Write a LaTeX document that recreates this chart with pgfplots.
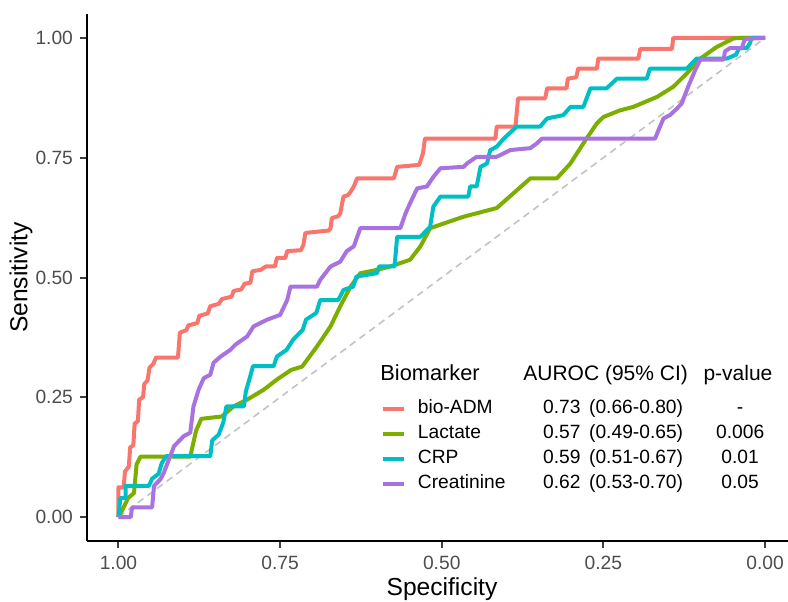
\documentclass[border=0pt]{standalone}
\usepackage{fontspec}
\setmainfont{Liberation Sans}
\usepackage{pgfplots}
\pgfplotsset{compat=1.18}

\definecolor{cADM}{HTML}{F8766D}
\definecolor{cLac}{HTML}{7CAE00}
\definecolor{cCRP}{HTML}{00BFC4}
\definecolor{cCre}{HTML}{A873E0}
\definecolor{tickgray}{RGB}{77,77,77}
\definecolor{diaggray}{RGB}{195,195,195}

\begin{document}
\begin{tikzpicture}
\path[use as bounding box] (-43.5pt,-30pt) rectangle (350.5pt,270.5pt);
\begin{axis}[
    at={(0pt,0pt)}, anchor=south west,
    width=350.5pt, height=263.5pt, scale only axis,
    xmin=-0.0355, xmax=1.0487, ymin=-0.05, ymax=1.05,
    x dir=reverse,
    axis x line*=bottom, axis y line*=left,
    axis line style={line width=1.1pt, -},
    xtick={0,0.25,0.5,0.75,1}, xticklabels={0.00,0.25,0.50,0.75,1.00},
    ytick={0,0.25,0.5,0.75,1}, yticklabels={0.00,0.25,0.50,0.75,1.00},
    tick align=outside, major tick length=3.5pt,
    tick style={line width=1pt, color=black!75},
    ticklabel style={font=\fontsize{9.6}{10}\selectfont, color=tickgray},
    xticklabel style={yshift=-0.5pt},
    clip=false,
    legend style={draw=none, fill=none, inner sep=0pt, outer sep=0pt,
        at={(axis description cs:0.4194,0.2679)}, anchor=north west,
        column sep=6.3pt, row sep=3.5pt,
        nodes={inner sep=0pt, text height=7pt, text depth=2pt,
               font=\fontsize{9.6}{11}\selectfont}},
    legend cell align=left,
    legend image code/.code={\draw[#1, line width=1.7pt] (0pt,0pt) -- (10.5pt,0pt);},
]
\addplot[diaggray, line width=0.8pt, dash pattern=on 3.5pt off 2.5pt, forget plot]
    coordinates {(1,0) (0,1)};

% bio-ADM
\addplot[cADM, line width=2pt, line join=round] coordinates {
(1.000,0.000) (1.000,0.062) (0.992,0.062) (0.990,0.095) (0.984,0.105)
(0.982,0.145) (0.977,0.150) (0.975,0.195) (0.970,0.200) (0.968,0.245)
(0.962,0.250) (0.960,0.278) (0.955,0.285) (0.952,0.312) (0.946,0.320)
(0.942,0.333) (0.908,0.333) (0.905,0.385) (0.895,0.390) (0.892,0.400)
(0.878,0.405) (0.875,0.420) (0.862,0.425) (0.858,0.440) (0.845,0.445)
(0.840,0.455) (0.825,0.460) (0.822,0.472) (0.810,0.475) (0.805,0.487)
(0.796,0.489) (0.793,0.513) (0.780,0.516) (0.772,0.523) (0.758,0.523)
(0.755,0.541) (0.742,0.541) (0.739,0.555) (0.718,0.557) (0.714,0.568)
(0.711,0.593) (0.675,0.598) (0.672,0.603) (0.670,0.624) (0.660,0.628)
(0.657,0.634) (0.652,0.669) (0.645,0.672) (0.641,0.679) (0.636,0.690)
(0.631,0.707) (0.574,0.707) (0.569,0.731) (0.535,0.735) (0.529,0.759)
(0.526,0.790) (0.417,0.790) (0.415,0.815) (0.386,0.815) (0.382,0.874)
(0.340,0.874) (0.337,0.895) (0.307,0.895) (0.305,0.915) (0.292,0.918)
(0.289,0.936) (0.260,0.936) (0.258,0.957) (0.196,0.957) (0.193,0.977)
(0.144,0.977) (0.142,1.000) (0.000,1.000)};
\addlegendentry{\makebox[62.6pt][l]{bio-ADM}\makebox[23pt][l]{0.73}\makebox[59pt][l]{(0.66-0.80)}\makebox[33pt][c]{-}}

% Lactate
\addplot[cLac, line width=2pt, line join=round] coordinates {
(1.000,0.000) (0.992,0.020) (0.985,0.040) (0.976,0.050) (0.972,0.110)
(0.966,0.126) (0.889,0.126) (0.880,0.180) (0.872,0.205) (0.840,0.210)
(0.822,0.231) (0.801,0.245) (0.775,0.266) (0.755,0.287) (0.733,0.307)
(0.716,0.314) (0.693,0.356) (0.672,0.398) (0.657,0.440) (0.641,0.481)
(0.626,0.509) (0.600,0.516) (0.580,0.523) (0.549,0.537) (0.533,0.565)
(0.518,0.603) (0.466,0.627) (0.415,0.645) (0.389,0.676) (0.363,0.707)
(0.322,0.707) (0.301,0.738) (0.281,0.780) (0.260,0.822) (0.250,0.835)
(0.224,0.849) (0.204,0.856) (0.167,0.877) (0.142,0.898) (0.121,0.926)
(0.100,0.957) (0.075,0.981) (0.049,0.999) (0.039,1.000) (0.000,1.000)};
\addlegendentry{\makebox[62.6pt][l]{Lactate}\makebox[23pt][l]{0.57}\makebox[59pt][l]{(0.49-0.65)}\makebox[33pt][c]{0.006}}

% CRP
\addplot[cCRP, line width=2pt, line join=round] coordinates {
(1.000,0.000) (0.997,0.040) (0.989,0.040) (0.989,0.065) (0.953,0.065)
(0.948,0.080) (0.938,0.090) (0.933,0.113) (0.926,0.127) (0.858,0.127)
(0.855,0.160) (0.845,0.172) (0.838,0.197) (0.833,0.231) (0.806,0.231)
(0.803,0.262) (0.797,0.290) (0.792,0.315) (0.760,0.315) (0.755,0.335)
(0.740,0.349) (0.730,0.370) (0.715,0.391) (0.710,0.412) (0.694,0.426)
(0.688,0.453) (0.660,0.453) (0.652,0.474) (0.637,0.481) (0.632,0.502)
(0.600,0.509) (0.597,0.523) (0.573,0.523) (0.569,0.585) (0.533,0.585)
(0.518,0.606) (0.513,0.648) (0.502,0.669) (0.459,0.669) (0.456,0.690)
(0.446,0.690) (0.440,0.731) (0.430,0.738) (0.425,0.766) (0.415,0.773)
(0.404,0.790) (0.384,0.815) (0.348,0.815) (0.337,0.832) (0.312,0.839)
(0.301,0.856) (0.281,0.856) (0.270,0.895) (0.245,0.895) (0.229,0.915)
(0.183,0.915) (0.178,0.936) (0.121,0.936) (0.106,0.957) (0.059,0.957)
(0.045,0.965) (0.040,0.979) (0.028,0.979) (0.023,0.990) (0.021,1.000)
(0.000,1.000)};
\addlegendentry{\makebox[62.6pt][l]{CRP}\makebox[23pt][l]{0.59}\makebox[59pt][l]{(0.51-0.67)}\makebox[33pt][c]{0.01}}

% Creatinine
\addplot[cCre, line width=2pt, line join=round] coordinates {
(1.000,0.000) (0.981,0.000) (0.979,0.020) (0.948,0.020) (0.945,0.065)
(0.935,0.079) (0.930,0.092) (0.922,0.120) (0.914,0.148) (0.899,0.169)
(0.889,0.176) (0.884,0.231) (0.876,0.266) (0.868,0.290) (0.858,0.297)
(0.853,0.322) (0.842,0.335) (0.827,0.349) (0.819,0.360) (0.801,0.377)
(0.791,0.398) (0.770,0.412) (0.750,0.422) (0.739,0.453) (0.734,0.481)
(0.693,0.481) (0.688,0.495) (0.672,0.523) (0.657,0.533) (0.647,0.555)
(0.636,0.565) (0.626,0.603) (0.564,0.603) (0.556,0.634) (0.549,0.655)
(0.538,0.686) (0.523,0.690) (0.513,0.710) (0.502,0.728) (0.466,0.731)
(0.461,0.738) (0.446,0.752) (0.415,0.752) (0.394,0.766) (0.363,0.770)
(0.353,0.780) (0.345,0.790) (0.170,0.790) (0.165,0.807) (0.157,0.832)
(0.147,0.839) (0.136,0.853) (0.129,0.863) (0.119,0.898) (0.108,0.933)
(0.100,0.955) (0.064,0.955) (0.062,0.972) (0.054,0.979) (0.036,0.979)
(0.031,0.998) (0.000,1.000)};
\addlegendentry{\makebox[62.6pt][l]{Creatinine}\makebox[23pt][l]{0.62}\makebox[59pt][l]{(0.53-0.70)}\makebox[33pt][c]{0.05}}
\end{axis}

% axis titles
\node[rotate=90, font=\fontsize{12.3}{14}\selectfont] at (-33pt,131.75pt) {Sensitivity};
\node[anchor=base, font=\fontsize{12.3}{14}\selectfont] at (177.5pt,-27pt) {Specificity};

% legend header
\node[anchor=base west, inner sep=0pt, font=\fontsize{10.9}{12}\selectfont] at (146.5pt,80.5pt) {Biomarker};
\node[anchor=base west, inner sep=0pt, font=\fontsize{10.5}{12}\selectfont] at (218pt,80.5pt) {AUROC (95\% CI)};
\node[anchor=base, inner sep=0pt, font=\fontsize{10.5}{12}\selectfont] at (325.5pt,80.5pt) {p-value};
\end{tikzpicture}
\end{document}
